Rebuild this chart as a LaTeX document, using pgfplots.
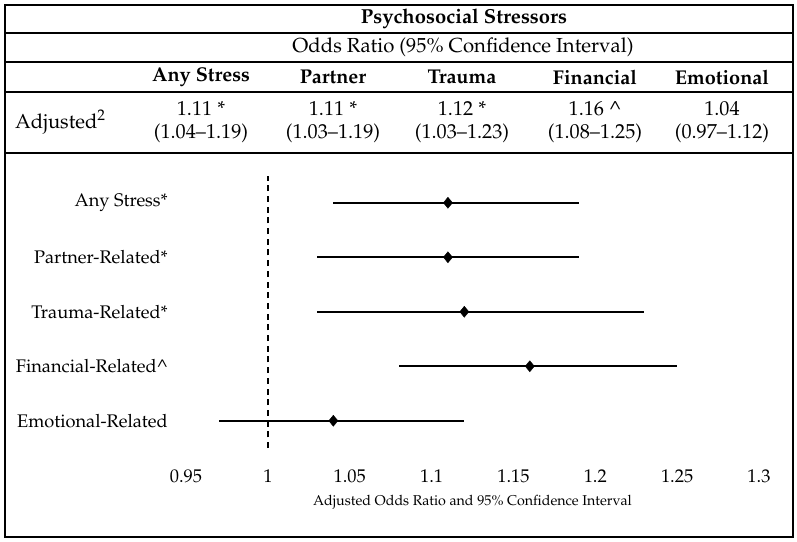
\documentclass[border=0pt]{standalone}
\usepackage[T1]{fontenc}
\usepackage{mathpazo}
\usepackage{pgfplots}
\pgfplotsset{compat=1.18}
\usepackage{pgfplotstable}
\pgfplotstableread{
y x em ep
5 1.11 0.07 0.08
4 1.11 0.08 0.08
3 1.12 0.09 0.11
2 1.16 0.08 0.09
1 1.04 0.07 0.08
}\forestdata
\begin{document}
\begin{tikzpicture}
\useasboundingbox (0,0) rectangle (797bp,-542bp);
\begin{scope}[x=1bp,y=-1bp]
\draw[line width=1.8bp] (5,5) rectangle (793,537);
\draw[line width=1.4bp] (5,33) -- (793,33);
\draw[line width=1.4bp] (5,62) -- (793,62);
\draw[line width=1.8bp] (5,92) -- (793,92);
\draw[line width=1.8bp] (5,153) -- (793,153);
\node[font=\fontsize{20.3}{23}\selectfont\bfseries] at (464,19) {Psychosocial Stressors};
\node[font=\fontsize{20.4}{23}\selectfont] at (463,47) {Odds Ratio (95\% Confidence Interval)};
\begin{scope}[every node/.style={font=\fontsize{20}{23}\selectfont\bfseries}]
\node at (201,77) {Any Stress};
\node at (333,77) {Partner};
\node at (462,77) {Trauma};
\node at (595,77) {Financial};
\node at (722,77) {Emotional};
\end{scope}
\node[font=\fontsize{20.3}{23}\selectfont, anchor=west, inner sep=0pt] at (15,122) {Adjusted\textsuperscript{2}};
\begin{scope}[every node/.style={font=\fontsize{20.3}{23}\selectfont, align=center}]
\node at (201,122) {1.11 *\\(1.04--1.19)};
\node at (333,122) {1.11 *\\(1.03--1.19)};
\node at (462,122) {1.12 *\\(1.03--1.23)};
\node at (595,122) {1.16 \textasciicircum\\(1.08--1.25)};
\node at (722,122) {1.04\\(0.97--1.12)};
\end{scope}
\end{scope}
\begin{axis}[
  at={(186bp,-448bp)}, anchor=south west,
  width=573bp, height=272.5bp, scale only axis,
  xmin=0.95, xmax=1.3, ymin=0.5, ymax=5.5,
  axis line style={draw=none},
  major tick length=0pt,
  tick style={draw=none},
  xtick={0.95,1,1.05,1.1,1.15,1.2,1.25,1.3},
  xticklabels={0.95,1,1.05,1.1,1.15,1.2,1.25,1.3},
  ytick={1,2,3,4,5},
  yticklabels={Emotional-Related,Financial-Related\textasciicircum,Trauma-Related*,Partner-Related*,Any Stress*},
  xticklabel style={font=\fontsize{18.5}{21}\selectfont, anchor=center, inner sep=0pt, yshift=-28bp},
  yticklabel style={font=\fontsize{18.3}{21}\selectfont, anchor=east, inner sep=0pt, xshift=-18bp},
  xlabel={Adjusted Odds Ratio and 95\% Confidence Interval},
  xlabel style={font=\fontsize{14.3}{17}\selectfont, at={(axis description cs:0.5,0)}, anchor=center, yshift=-54bp},
  clip=false,
]
\addplot[black, line width=2bp, dash pattern=on 6bp off 4.7bp] coordinates {(1,0.5) (1,5.5)};
\addplot[black, only marks, mark=diamond*, mark size=5.5bp,
  mark options={fill=black, xscale=1.1, solid},
  error bars/.cd, x dir=both, x explicit, error mark=none,
  error bar style={line width=2bp, black, solid}]
  table[x=x, y=y, x error minus=em, x error plus=ep] {\forestdata};
\end{axis}
\end{tikzpicture}
\end{document}
